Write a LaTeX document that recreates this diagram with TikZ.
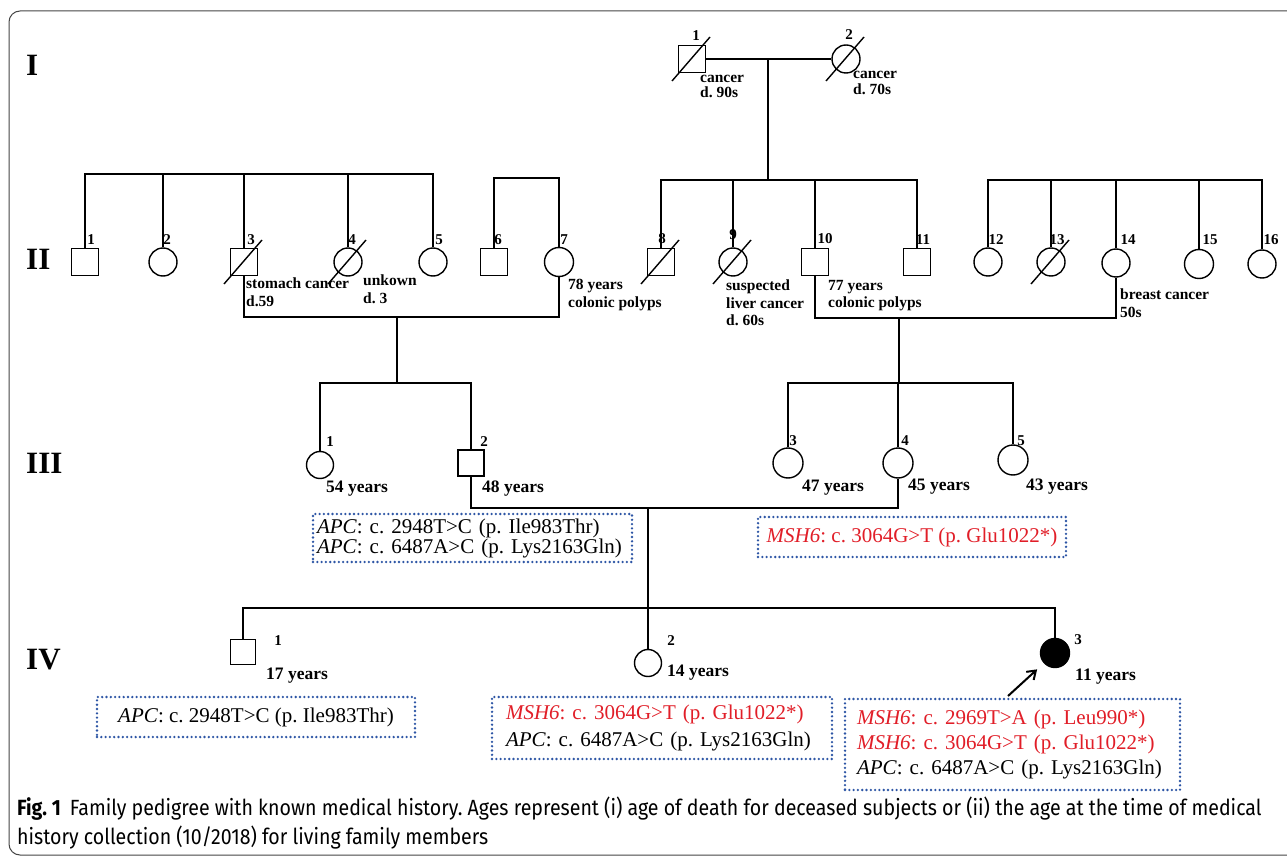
\documentclass[tikz,border=0pt]{standalone}
\usepackage{fontspec}
\setmainfont{Liberation Serif}
\newfontfamily\capfont[FakeStretch=0.89]{Fira Sans}
\usetikzlibrary{arrows.meta}
\definecolor{mutred}{RGB}{225,30,40}
\definecolor{dotblue}{RGB}{45,85,165}
\definecolor{framegray}{RGB}{70,70,70}
\newcommand\pdslash[1]{\draw[pline] ([shift={(-20,22)}]#1.center) -- ([shift={(18,-22)}]#1.center);}
\tikzset{
  pline/.style={line width=1.4pt, black},
  male/.style={draw, line width=1.4pt, rectangle, minimum size=27pt, inner sep=0pt},
  female/.style={draw, line width=1.4pt, circle, minimum size=28pt, inner sep=0pt},
  affected/.style={female, fill=black},
  num/.style={font=\bfseries\fontsize{15}{15}\selectfont, inner sep=0pt},
  info/.style={font=\bfseries\fontsize{15.5}{17.5}\selectfont, inner sep=0pt, anchor=north west, align=left},
  age/.style={font=\bfseries\fontsize{17.5}{18}\selectfont, inner sep=0pt, anchor=west},
  gen/.style={font=\bfseries\fontsize{31}{31}\selectfont, inner sep=0pt, anchor=west},
  genebox/.style={draw=dotblue, line width=2.6pt, dash pattern=on 0pt off 4.3pt, line cap=round, inner ysep=0pt},
  captxt/.style={font=\capfont\fontsize{22}{24}\selectfont, inner sep=0pt, anchor=west},
}
\begin{document}
\frenchspacing
\begin{tikzpicture}[x=1pt,y=-1pt]
\useasboundingbox (0,0) rectangle (1287,858);
\fill[white] (0,0) rectangle (1287,858);
\draw[framegray, line width=1pt, rounded corners=11pt] (1300,855) -- (9,855) -- (9,11) -- (1300,11);

% generation labels
\node[gen] (gI) at (26,65) {I};
\node[gen] (gII) at (26,259) {II};
\node[gen] (gIII) at (26,463) {III};
\node[gen] (gIV) at (26,660) {IV};

% generation I
\node[male] (I1) at (692,59) {};
\node[female] (I2) at (846,59) {};
\pdslash{I1}\pdslash{I2}
\node[num] (nI1) at (696,36) {1};
\node[num] (nI2) at (849,35) {2};
\node[info, font=\bfseries\fontsize{15.5}{15}\selectfont] (tI1) at (700,75) {cancer\\d. 90s};
\node[info, font=\bfseries\fontsize{15.5}{16}\selectfont] (tI2) at (853,71) {cancer\\d. 70s};

% generation II
\node[male] (II1) at (85,262) {};
\node[female] (II2) at (163,262) {};
\node[male] (II3) at (244,262) {};
\node[female] (II4) at (348,262) {};
\node[female] (II5) at (433,262) {};
\node[male] (II6) at (494,262) {};
\node[female, minimum size=29pt] (II7) at (559,262) {};
\node[male] (II8) at (661,262) {};
\node[female] (II9) at (733,262) {};
\node[male] (II10) at (815,262) {};
\node[male] (II11) at (917,262) {};
\node[female] (II12) at (988,262) {};
\node[female] (II13) at (1051,262) {};
\node[female] (II14) at (1116,263) {};
\node[female, minimum size=29pt] (II15) at (1199,264) {};
\node[female] (II16) at (1262,264) {};
\pdslash{II3}\pdslash{II4}\pdslash{II8}\pdslash{II9}\pdslash{II13}

\node[num] (nII1) at (91,240) {1};
\node[num] (nII2) at (167,240) {2};
\node[num] (nII3) at (251,240) {3};
\node[num] (nII4) at (352,240) {4};
\node[num] (nII5) at (439,240) {5};
\node[num] (nII6) at (498,240) {6};
\node[num] (nII7) at (564,240) {7};
\node[num] (nII8) at (662,239) {8};
\node[num] (nII9) at (733,235) {9};
\node[num] (nII10) at (825,239) {10};
\node[num] (nII11) at (923,240) {11};
\node[num] (nII12) at (996,240) {12};
\node[num] (nII13) at (1057,240) {13};
\node[num] (nII14) at (1128,240) {14};
\node[num] (nII15) at (1210,240) {15};
\node[num] (nII16) at (1271,240) {16};

\node[info] (tII3) at (246,278) {stomach cancer\\d.59};
\node[info] (tII4) at (363,275) {unkown\\d. 3};
\node[info] (tII7) at (568,279) {78 years\\colonic polyps};
\node[info] (tII9) at (726,280) {suspected\\liver cancer\\d. 60s};
\node[info] (tII10) at (828,280) {77 years\\colonic polyps};
\node[info] (tII14) at (1120,289) {breast cancer\\50s};

% generation I connections
\draw[pline] (I1.east) -- (I2.west);
\coordinate (dI) at (768,59);
\coordinate (sibB) at (0,180);
\draw[pline] (dI) -- (dI |- sibB);
\draw[pline] (II8.north) |- (II11.north |- sibB) -- (II11.north);
\draw[pline] (II9.north) -- (II9.north |- sibB);
\draw[pline] (II10.north) -- (II10.north |- sibB);

% other sibships gen II
\coordinate (sibA) at (0,174);
\draw[pline] (II1.north) |- (II5.north |- sibA) -- (II5.north);
\foreach \n in {II2,II3,II4} \draw[pline] (\n.north) -- (\n.north |- sibA);
\coordinate (sibC) at (0,178);
\draw[pline] (II6.north) |- (II7.north |- sibC) -- (II7.north);
\coordinate (sibD) at (0,180);
\draw[pline] (II12.north) |- (II16.north |- sibD) -- (II16.north);
\foreach \n in {II13,II14,II15} \draw[pline] (\n.north) -- (\n.north |- sibD);

% generation III
\node[female, minimum size=27pt] (III1) at (320,465) {};
\node[male, minimum size=26pt] (III2) at (471,463) {};
\node[female, minimum size=30pt] (III3) at (788,463) {};
\node[female, minimum size=30pt] (III4) at (898,463) {};
\node[female, minimum size=30pt] (III5) at (1013,460) {};
\node[num] (nIII1) at (330,442) {1};
\node[num] (nIII2) at (484,442) {2};
\node[num] (nIII3) at (793,441) {3};
\node[num] (nIII4) at (905,441) {4};
\node[num] (nIII5) at (1021,441) {5};
\node[age] (aIII1) at (326,489) {54 years};
\node[age] (aIII2) at (482,489) {48 years};
\node[age] (aIII3) at (802,488) {47 years};
\node[age] (aIII4) at (908,487) {45 years};
\node[age] (aIII5) at (1026,487) {43 years};

\coordinate (marA) at (0,317);
\draw[pline] (II3.south) |- (II7.south |- marA) -- (II7.south);
\coordinate (dA) at (397,317);
\coordinate (sibIIIa) at (0,383);
\draw[pline] (dA) -- (dA |- sibIIIa);
\draw[pline] (III1.north) |- (III2.north |- sibIIIa) -- (III2.north);

\coordinate (marB) at (0,318);
\draw[pline] (II10.south) |- (II14.south |- marB) -- (II14.south);
\coordinate (dB) at (899,318);
\coordinate (sibE) at (0,383);
\draw[pline] (dB) -- (dB |- sibE);
\draw[pline] (III3.north) |- (III5.north |- sibE) -- (III5.north);
\draw[pline] (III4.north) -- (III4.north |- sibE);

\coordinate (marC) at (0,508);
\draw[pline] (III2.south) |- (III4.south |- marC) -- (III4.south);

% gene boxes gen III
\node[genebox, minimum width=319pt, minimum height=48pt, text width=311pt, inner xsep=4pt, align=left,
  font=\fontsize{21}{18}\selectfont] (bIII2) at (472.5,538)
  {\mbox{\textit{APC}: c. 2948T>C (p. Ile983Thr)}\\\mbox{\textit{APC}: c. 6487A>C (p. Lys2163Gln)}};
\node[genebox, minimum width=308pt, minimum height=40pt, align=center, text=mutred,
  font=\fontsize{21}{22}\selectfont] (bIII4) at (912,537)
  {\textit{MSH6}: c. 3064G>T (p. Glu1022*)};

% generation IV
\node[male, minimum size=25pt] (IV1) at (243,652) {};
\node[female, minimum size=27pt] (IV2) at (648,663) {};
\node[affected, minimum size=29pt] (IV3) at (1055,653) {};
\node[num] (nIV1) at (278,641) {1};
\node[num] (nIV2) at (671,641) {2};
\node[num] (nIV3) at (1078,640) {3};
\node[age] (aIV1) at (266,676) {17 years};
\node[age] (aIV2) at (667,673) {14 years};
\node[age] (aIV3) at (1075,677) {11 years};

\coordinate (dC) at (648,508);
\draw[pline] (dC) -- (IV2.north);
\coordinate (sibF) at (0,608);
\draw[pline] (IV1.north) |- (IV3.north |- sibF) -- (IV3.north);

\coordinate (arr) at (1008,696);
\draw[line width=2pt, -{Straight Barb[length=8pt,width=11pt,line width=2pt]}, shorten >=9pt] (arr) -- (IV3);

% gene boxes gen IV
\node[genebox, minimum width=318pt, minimum height=40pt, align=center,
  font=\fontsize{21}{22}\selectfont] (bIV1) at (256,717)
  {\textit{APC}: c. 2948T>C (p. Ile983Thr)};
\node[genebox, minimum width=340pt, minimum height=62pt, text width=312pt, inner xsep=14pt, align=left,
  font=\fontsize{21}{27}\selectfont] (bIV2) at (662,728)
  {\mbox{\textcolor{mutred}{\textit{MSH6}: c. 3064G>T (p. Glu1022*)}}\\\mbox{\textit{APC}: c. 6487A>C (p. Lys2163Gln)}};
\node[genebox, minimum width=335pt, minimum height=91pt, text width=311pt, inner xsep=12pt, align=left,
  font=\fontsize{21}{25}\selectfont] (bIV3) at (1012.5,744.5)
  {\mbox{\textcolor{mutred}{\textit{MSH6}: c. 2969T>A (p. Leu990*)}}\\\mbox{\textcolor{mutred}{\textit{MSH6}: c. 3064G>T (p. Glu1022*)}}\\\mbox{\textit{APC}: c. 6487A>C (p. Lys2163Gln)}};

% caption
\node[captxt] (cap1) at (17,809) {\textbf{Fig. 1}\hspace{9pt}Family pedigree with known medical history. Ages represent (i) age of death for deceased subjects or (ii) the age at the time of medical};
\node[captxt] (cap2) at (17,838) {history collection (10/2018) for living family members};
\end{tikzpicture}
\end{document}
